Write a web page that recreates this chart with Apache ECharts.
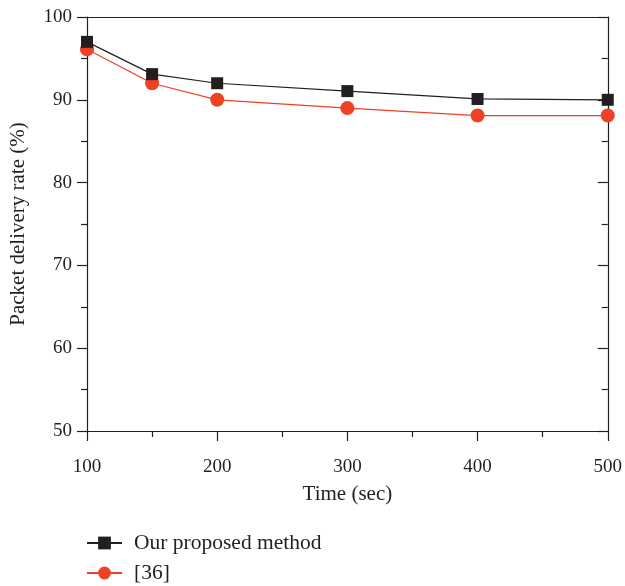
<!DOCTYPE html>
<html>
<head>
<meta charset="utf-8">
<script src="https://cdn.jsdelivr.net/npm/echarts@6/dist/echarts.min.js"></script>
<style>html,body{margin:0;padding:0;background:#fff}#c{width:625px;height:586px}</style>
</head>
<body>
<div id="c"></div>
<script>
const times = [100, 150, 200, 300, 400, 500];
const ourMethod = [97, 93.1, 92, 91.05, 90.1, 90];
const ref36 = [96.1, 92, 90, 89, 88.1, 88.1];
const seriesNames = ['Our proposed method', '[36]'];
const xTicks = [100, 200, 300, 400, 500];
const yTicks = [50, 60, 70, 80, 90, 100];

const ink = '#231f20';
const red = '#ef4123';
const font = 'Liberation Serif';

const chart = echarts.init(document.getElementById('c'), null, {renderer: 'canvas'});
chart.setOption({
  animation: false,
  backgroundColor: '#fff',
  grid: {left: 86, right: 13, top: 17, bottom: 155, containLabel: false},
  legend: {
    orient: 'vertical', left: 86, top: 532, itemGap: 8, padding: 0,
    itemWidth: 35, itemHeight: 16,
    textStyle: {fontFamily: font, fontSize: 21.5, color: ink, padding: [0,0,0,7]},
    data: seriesNames
  },
  xAxis: [{
    type: 'value', min: xTicks[0], max: xTicks[xTicks.length-1], interval: 100,
    position: 'bottom',
    name: 'Time (sec)', nameLocation: 'middle', nameGap: 53,
    nameTextStyle: {fontFamily: font, fontSize: 21, color: ink},
    axisLine: {show: true, onZero: false, lineStyle: {color: ink, width: 1.2}},
    axisTick: {show: true, length: 10, inside: false, lineStyle: {color: ink, width: 1.2}},
    minorTick: {show: true, splitNumber: 2, length: 6, lineStyle: {color: ink, width: 1.2}},
    axisLabel: {fontFamily: font, fontSize: 19, color: ink, margin: 27},
    splitLine: {show: false}
  }, {
    type: 'value', min: 100, max: 500, interval: 100, position: 'top',
    axisLine: {show: true, onZero: false, lineStyle: {color: ink, width: 1.2}},
    axisTick: {show: false}, axisLabel: {show: false}, splitLine: {show: false}
  }],
  yAxis: [{
    type: 'value', min: yTicks[0], max: yTicks[yTicks.length-1], interval: 10,
    position: 'left',
    name: 'Packet delivery rate (%)', nameLocation: 'middle', nameGap: 58,
    nameTextStyle: {fontFamily: font, fontSize: 21, color: ink},
    axisLine: {show: true, onZero: false, lineStyle: {color: ink, width: 1.2}},
    axisTick: {show: true, length: 10, inside: false, lineStyle: {color: ink, width: 1.2}},
    minorTick: {show: true, splitNumber: 2, length: 6, lineStyle: {color: ink, width: 1.2}},
    axisLabel: {fontFamily: font, fontSize: 19, color: ink, margin: 15},
    splitLine: {show: false}
  }, {
    type: 'value', min: 50, max: 100, interval: 10, position: 'right',
    axisLine: {show: true, onZero: false, lineStyle: {color: ink, width: 1.2}},
    axisTick: {show: true, length: 10, inside: true, lineStyle: {color: ink, width: 1.2}},
    minorTick: {show: true, splitNumber: 2, length: 6, lineStyle: {color: ink, width: 1.2}},
    axisLabel: {show: false}, splitLine: {show: false}
  }],
  series: [{
    name: seriesNames[0], type: 'line',
    data: times.map((t, i) => [t, ourMethod[i]]),
    symbol: 'rect', symbolSize: 12,
    itemStyle: {color: ink},
    lineStyle: {color: ink, width: 1.2},
    z: 3
  }, {
    name: seriesNames[1], type: 'line',
    data: times.map((t, i) => [t, ref36[i]]),
    symbol: 'circle', symbolSize: 14,
    itemStyle: {color: red},
    lineStyle: {color: red, width: 1.2},
    z: 2
  }]
});
</script>
</body>
</html>
